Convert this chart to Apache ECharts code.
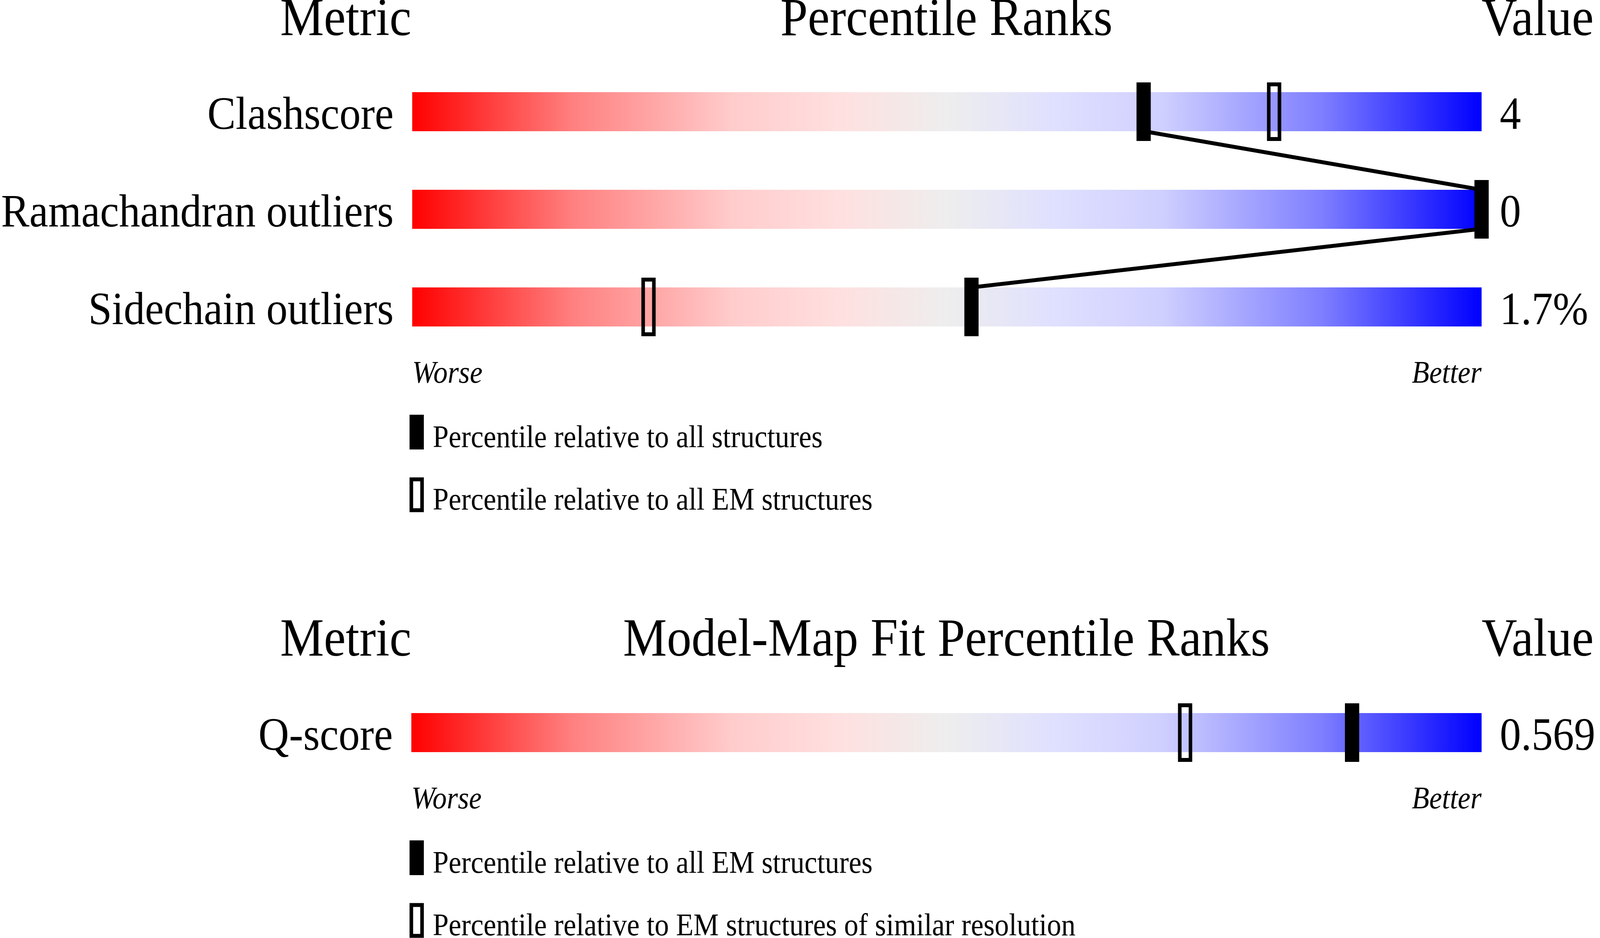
<!DOCTYPE html>
<html>
<head>
<meta charset="utf-8">
<script src="https://cdn.jsdelivr.net/npm/echarts@6/dist/echarts.min.js"></script>
<style>
html,body{margin:0;padding:0;background:#fff;overflow:hidden;}
#chart{width:4485px;height:2402px;transform-origin:0 0;}
</style>
</head>
<body>
<div id="chart"></div>
<script>
// ---- data ----
const metricsTop = ['Clashscore', 'Ramachandran outliers', 'Sidechain outliers'];
const valuesTop = ['4', '0', '1.7%'];
const pctAllTop = [68.4, 100, 52.3];     // percentile relative to all structures (filled marker)
const pctEMTop = [80.6, 100, 22.1];      // percentile relative to all EM structures (open marker)

const metricsBottom = ['Q-score'];
const valuesBottom = ['0.569'];
const pctEMBottom = [87.9];              // percentile relative to all EM structures (filled marker)
const pctResBottom = [72.3];             // percentile relative to EM structures of similar resolution (open marker)

const titlesTop = ['Metric', 'Percentile Ranks', 'Value'];
const titlesBottom = ['Metric', 'Model-Map Fit Percentile Ranks', 'Value'];
const endLabels = ['Worse', 'Better'];
const legendTop = ['Percentile relative to all structures', 'Percentile relative to all EM structures'];
const legendBottom = ['Percentile relative to all EM structures', 'Percentile relative to EM structures of similar resolution'];

// ---- style ----
const FONT = 'Liberation Serif';
const ROW_H = 250, BAR_H = 100;
const HALF = BAR_H / 2 / ROW_H;
const GRAD = [
  {offset: 0, color: '#ff0000'},
  {offset: 0.15, color: '#ff8080'},
  {offset: 0.3, color: '#ffcccc'},
  {offset: 0.4, color: '#ffe0e0'},
  {offset: 0.5, color: '#eeeeee'},
  {offset: 0.6, color: '#e0e0ff'},
  {offset: 0.7, color: '#d0d0ff'},
  {offset: 0.85, color: '#7f7fff'},
  {offset: 1, color: '#0000ff'}
];
const OPEN_MARK = 'path://M0 0H40V150H0Z M10 10V140H30V10Z';
const OPEN_ICON = 'path://M0 0H40V89H0Z M10 10V79H30V10Z';

const GRID_LEFT = 1153, GRID_W = 3000;
const grids = [
  {left: GRID_LEFT, width: GRID_W, top: 161, height: ROW_H * metricsTop.length},
  {left: GRID_LEFT, width: GRID_W, top: 1751, height: ROW_H * metricsBottom.length}
];

function xAxisFor(gi) {
  return {
    type: 'value', gridIndex: gi, min: 0, max: 100, interval: 100,
    axisLine: {show: false}, axisTick: {show: false}, splitLine: {show: false},
    axisLabel: {
      show: true, margin: 8, fontFamily: FONT, fontStyle: 'italic', fontSize: 80, color: '#000',
      alignMinLabel: 'left', alignMaxLabel: 'right',
      formatter: v => v === 0 ? endLabels[0] : (v === 100 ? endLabels[1] : '')
    }
  };
}
function yAxesFor(gi, metrics, values) {
  return [
    {type: 'category', gridIndex: gi, inverse: true, data: metrics, position: 'left',
     axisLine: {show: false}, axisTick: {show: false}, splitLine: {show: false},
     axisLabel: {margin: 52, fontFamily: FONT, fontSize: 119, color: '#000', verticalAlign: 'top', lineHeight: 25}},
    {type: 'category', gridIndex: gi, inverse: true, data: values, position: 'right',
     axisLine: {show: false}, axisTick: {show: false}, splitLine: {show: false},
     axisLabel: {margin: 51, fontFamily: FONT, fontSize: 119, color: '#000', align: 'left', verticalAlign: 'top', lineHeight: 25}},
    {type: 'value', gridIndex: gi, inverse: true, min: -0.5, max: metrics.length - 0.5, show: false}
  ];
}

const yAxes = [].concat(yAxesFor(0, metricsTop, valuesTop), yAxesFor(1, metricsBottom, valuesBottom));

function barSeries(gi, yi, n) {
  return {
    type: 'bar', xAxisIndex: gi, yAxisIndex: yi, barWidth: BAR_H, z: 1, silent: true,
    itemStyle: {color: new echarts.graphic.LinearGradient(0, 0, 1, 0, GRAD)},
    data: new Array(n).fill(100)
  };
}
function markSeries(name, gi, yi, pcts, open, z) {
  return {
    name: name, type: 'scatter', xAxisIndex: gi, yAxisIndex: yi, z: z,
    symbol: open ? OPEN_MARK : 'rect', symbolSize: [40, 150],
    itemStyle: {color: '#000', opacity: 1},
    data: pcts.map((p, i) => [p, i])
  };
}
// connector through the filled markers: leaves at bar bottom, enters next row at bar top
const connector = [];
pctAllTop.forEach((p, i) => {
  if (i > 0) connector.push([p, i - HALF]);
  if (i < pctAllTop.length - 1) connector.push([p, i + HALF]);
});

function titleTexts(arr, baseline) {
  const fs = 138;
  const y = baseline - 0.305 * fs;
  const f = fs + 'px "' + FONT + '"';
  return [
    {type: 'text', x: GRID_LEFT, y: y, style: {text: arr[0], font: f, fill: '#000', textAlign: 'right', textVerticalAlign: 'middle'}},
    {type: 'text', x: GRID_LEFT + GRID_W / 2, y: y, style: {text: arr[1], font: f, fill: '#000', textAlign: 'center', textVerticalAlign: 'middle'}},
    {type: 'text', x: GRID_LEFT + GRID_W, y: y, style: {text: arr[2], font: f, fill: '#000', textAlign: 'left', textVerticalAlign: 'middle'}}
  ];
}

function legendFor(names, top) {
  return {
    type: 'plain', orient: 'vertical', left: 1148, top: top, height: 400, padding: 0, itemGap: 59,
    itemWidth: 40, itemHeight: 89, selectedMode: false,
    formatter: name => '{t|' + name + '}',
    textStyle: {
      fontFamily: FONT, fontSize: 80, color: '#000',
      rich: {t: {fontFamily: FONT, fontSize: 80, color: '#000', padding: [17, 0, -17, 20]}}
    },
    data: [{name: names[0], icon: 'rect'}, {name: names[1], icon: OPEN_ICON}]
  };
}

const option = {
  backgroundColor: '#fff',
  animation: false,
  grid: grids,
  xAxis: [xAxisFor(0), xAxisFor(1)],
  yAxis: yAxes,
  legend: [legendFor(legendTop, 1062), legendFor(legendBottom, 2152)],
  graphic: titleTexts(titlesTop, 96).concat(titleTexts(titlesBottom, 1685)),
  series: [
    barSeries(0, 0, metricsTop.length),
    markSeries(legendTop[1], 0, 2, pctEMTop, true, 3),
    {type: 'line', xAxisIndex: 0, yAxisIndex: 2, z: 2, silent: true, showSymbol: false, symbol: 'none',
     lineStyle: {color: '#000', width: 10, join: 'round'}, data: connector},
    markSeries(legendTop[0], 0, 2, pctAllTop, false, 4),
    barSeries(1, 3, metricsBottom.length),
    markSeries(legendBottom[1], 1, 5, pctResBottom, true, 3),
    markSeries(legendBottom[0], 1, 5, pctEMBottom, false, 4)
  ]
};

// the viewport may be narrower than the 4485px design: squeeze horizontally to fit it
const el = document.getElementById('chart');
const sx = Math.min(1, window.innerWidth / 4485);
if (sx < 1) el.style.transform = 'scaleX(' + sx + ')';

const chart = echarts.init(el, null, {renderer: 'canvas'});
chart.setOption(option);
</script>
</body>
</html>
